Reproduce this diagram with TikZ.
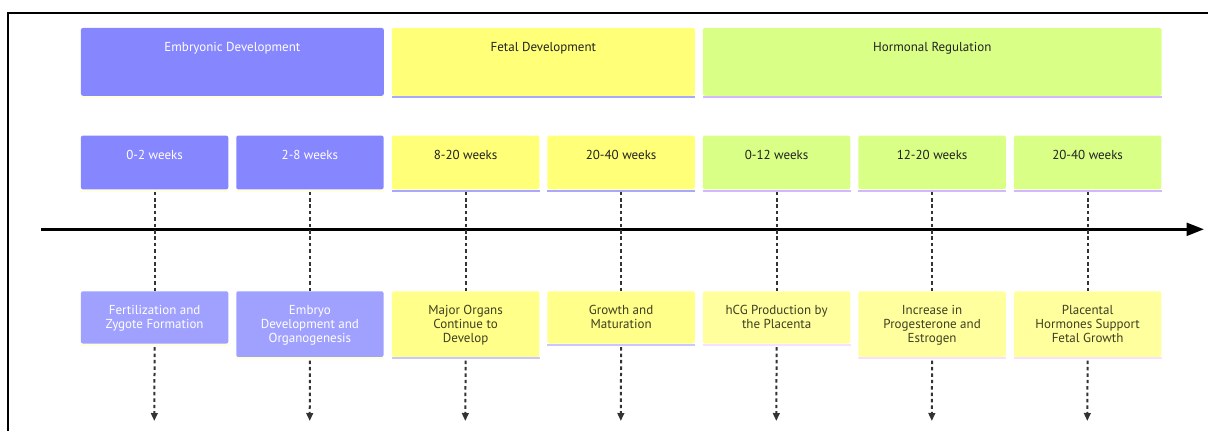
\documentclass[tikz,border=0pt]{standalone}
\usepackage{fontspec}
\setmainfont{PT Sans}
\usetikzlibrary{arrows.meta}
\definecolor{embC}{HTML}{8686FF}
\definecolor{embE}{HTML}{A0A0FF}
\definecolor{embB}{HTML}{FFFFDE}
\definecolor{fetC}{HTML}{FFFF78}
\definecolor{fetE}{HTML}{FFFF8A}
\definecolor{fetB}{HTML}{A8A8FF}
\definecolor{fetEB}{HTML}{C8C8FF}
\definecolor{horC}{HTML}{D9FF86}
\definecolor{horB}{HTML}{D3B8FF}
\definecolor{horE}{HTML}{FFFF9E}
\definecolor{horEB}{HTML}{F8E0FF}
\definecolor{dk}{HTML}{333333}
\definecolor{txtD}{HTML}{222222}
\definecolor{txtE}{HTML}{3E3E20}
\begin{document}
\begin{tikzpicture}[x=0.75pt,y=-0.75pt,
  box/.style={rectangle, rounded corners=1.5pt, inner sep=0pt, anchor=north west, minimum width=147.3*0.75pt},
  wide/.style={minimum width=302.8*0.75pt, minimum height=67.8*0.75pt},
  widest/.style={minimum width=458.6*0.75pt, minimum height=67.8*0.75pt},
  per/.style={minimum height=53.8*0.75pt},
  evs/.style={minimum height=52.3*0.75pt},
  evl/.style={minimum height=65.7*0.75pt},
  txt/.style={font=\fontsize{9.75}{10.5}\selectfont, align=center, inner sep=0pt, anchor=north, yshift=-9.6pt},
  conn/.style={dk, line width=1.5pt, dash pattern=on 2.6pt off 2.2pt},
  evarrow/.style={conn, -{Triangle[length=6pt,width=5pt]}},
  axis/.style={black, line width=2.2pt, -{Triangle[length=13pt,width=9.5pt]}},
  frame/.style={black, line width=1.5pt}
]
\useasboundingbox (0,0) rectangle (1208,430);
\draw[frame] (8,431) -- (8,13) -- (1209,13);

% headers
\node[box, wide, fill=embC, label={[txt,text=white]north:{\rule{0pt}{8pt}Embryonic Development}}] (h1) at (80.7,27.7) {};
\node[box, wide, fill=fetC, label={[txt,text=txtD]north:{\rule{0pt}{8pt}Fetal Development}}] (h2) at (391.7,27.7) {};
\node[box, widest, fill=horC, label={[txt,text=txtD]north:{\rule{0pt}{8pt}Hormonal Regulation}}] (h3) at (702.7,27.7) {};
\draw[embB, line width=1.5pt] ([yshift=-0.75pt]h1.south west) -- ([yshift=-0.75pt]h1.south east);
\draw[fetB, line width=1.5pt] ([yshift=-0.75pt]h2.south west) -- ([yshift=-0.75pt]h2.south east);
\draw[horB, line width=1.5pt] ([yshift=-0.75pt]h3.south west) -- ([yshift=-0.75pt]h3.south east);

% periods
\node[box, per, fill=embC, label={[txt,text=white]north:{\rule{0pt}{8pt}0-2 weeks}}] (p1) at (80.7,135.3) {};
\node[box, per, fill=embC, label={[txt,text=white]north:{\rule{0pt}{8pt}2-8 weeks}}] (p2) at (236,135.3) {};
\node[box, per, fill=fetC, label={[txt,text=txtD]north:{\rule{0pt}{8pt}8-20 weeks}}] (p3) at (391.7,135.3) {};
\node[box, per, fill=fetC, label={[txt,text=txtD]north:{\rule{0pt}{8pt}20-40 weeks}}] (p4) at (547.2,135.3) {};
\node[box, per, fill=horC, label={[txt,text=txtD]north:{\rule{0pt}{8pt}0-12 weeks}}] (p5) at (702.7,135.3) {};
\node[box, per, fill=horC, label={[txt,text=txtD]north:{\rule{0pt}{8pt}12-20 weeks}}] (p6) at (858.2,135.3) {};
\node[box, per, fill=horC, label={[txt,text=txtD]north:{\rule{0pt}{8pt}20-40 weeks}}] (p7) at (1013.7,135.3) {};
\foreach \n/\c in {p1/embB,p2/embB,p3/fetB,p4/fetB,p5/horB,p6/horB,p7/horB}
  \draw[\c, line width=1.5pt] ([yshift=-0.75pt]\n.south west) -- ([yshift=-0.75pt]\n.south east);

% events
\node[box, evs, fill=embE, label={[txt,text=white]north:{\rule{0pt}{8pt}Fertilization and\\Zygote Formation}}] (e1) at (80.7,291) {};
\node[box, evl, fill=embE, label={[txt,text=white]north:{\rule{0pt}{8pt}Embryo\\Development and\\Organogenesis}}] (e2) at (236,291) {};
\node[box, evl, fill=fetE, label={[txt,text=txtE]north:{\rule{0pt}{8pt}Major Organs\\Continue to\\Develop}}] (e3) at (391.7,291) {};
\node[box, evs, fill=fetE, label={[txt,text=txtE]north:{\rule{0pt}{8pt}Growth and\\Maturation}}] (e4) at (547.2,291) {};
\node[box, evs, fill=horE, label={[txt,text=txtE]north:{\rule{0pt}{8pt}hCG Production by\\the Placenta}}] (e5) at (702.7,291) {};
\node[box, evl, fill=horE, label={[txt,text=txtE]north:{\rule{0pt}{8pt}Increase in\\Progesterone and\\Estrogen}}] (e6) at (858.2,291) {};
\node[box, evl, fill=horE, label={[txt,text=txtE]north:{\rule{0pt}{8pt}Placental\\Hormones Support\\Fetal Growth}}] (e7) at (1013.7,291) {};
\foreach \n/\c in {e1/embB,e2/embB,e3/fetEB,e4/fetEB,e5/horEB,e6/horEB,e7/horEB}
  \draw[\c, line width=1.5pt] ([yshift=-0.75pt]\n.south west) -- ([yshift=-0.75pt]\n.south east);

% axis
\coordinate (ax0) at (41,229.3);
\coordinate (ax1) at (1204,229.3);
\draw[axis] (ax0) -- (ax1);

% connectors
\foreach \i/\x in {1/154.3,2/309.7,3/465.3,4/620.8,5/776.3,6/931.8,7/1087.3} {
  \coordinate (a\i) at (\x,421);
  \draw[conn] ([yshift=-1.5pt]p\i.south) -- (e\i.north);
  \draw[evarrow] ([yshift=-2.5pt]e\i.south) -- (a\i);
}
\end{tikzpicture}
\end{document}
